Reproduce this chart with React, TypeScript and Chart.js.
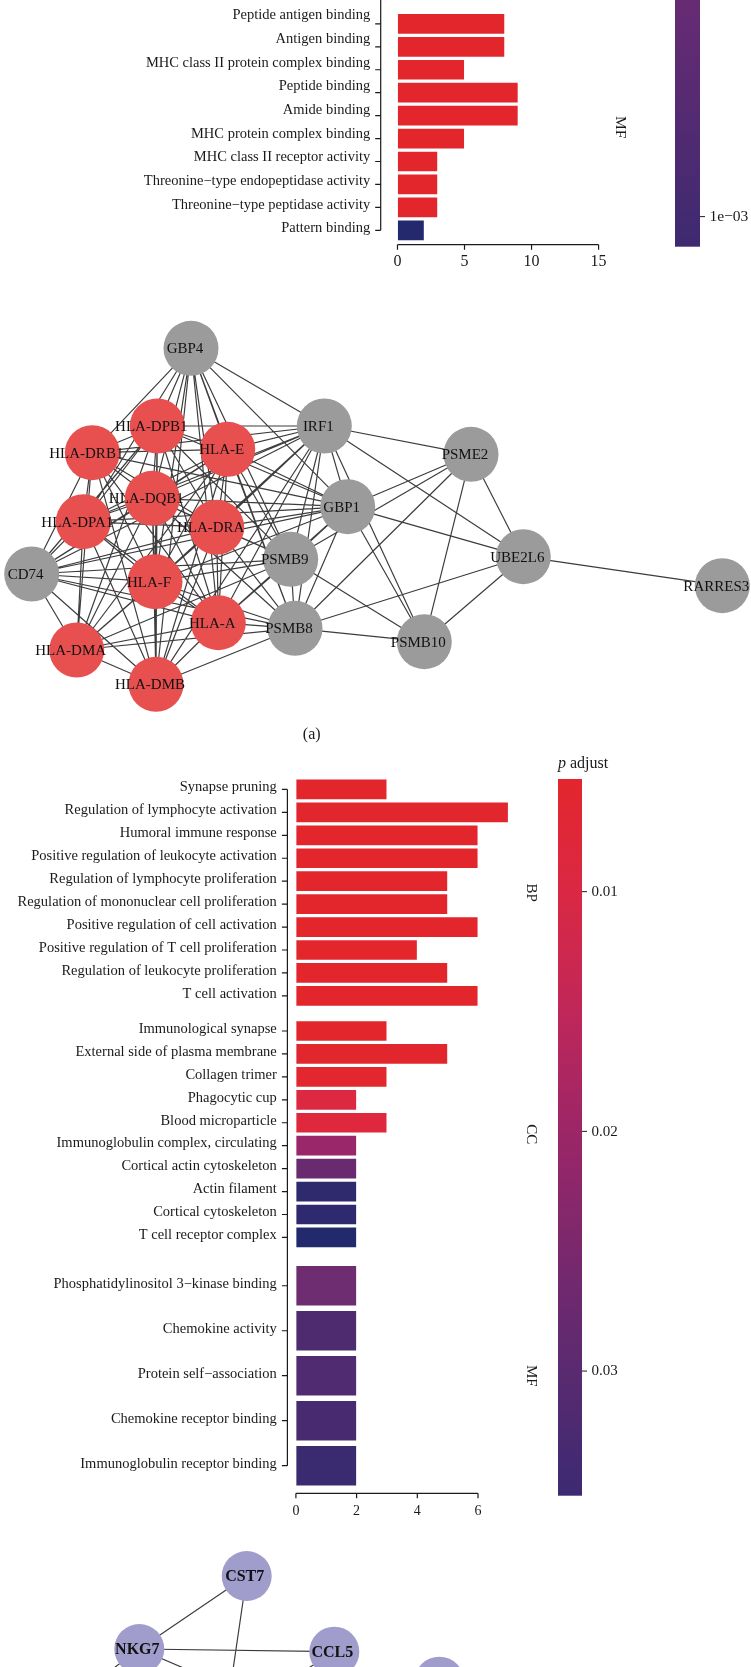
import React, { useEffect, useRef } from 'react';
import { Chart, registerables } from 'chart.js';

Chart.register(...registerables);

const SERIF = '"Liberation Serif", "Times New Roman", Times, serif';
const INK = '#1a1a1a';

// ================= Panel (a): GO enrichment, visible MF facet =================
const aMfTerms = [
  'Peptide antigen binding',
  'Antigen binding',
  'MHC class II protein complex binding',
  'Peptide binding',
  'Amide binding',
  'MHC protein complex binding',
  'MHC class II receptor activity',
  'Threonine\u2212type endopeptidase activity',
  'Threonine\u2212type peptidase activity',
  'Pattern binding',
];
const aMfCounts = [8, 8, 5, 9, 9, 5, 3, 3, 3, 2];
const aMfColors = ['#E2262C', '#E2262C', '#E2262C', '#E2262C', '#E2262C', '#E2262C', '#E2262C', '#E2262C', '#E2262C', '#24296E'];
const aXTicks = [0, 5, 10, 15];
const aPadjRange: [number, number] = [0.0001, 0.001125];
const aPadjTicks = [0.001];
const aPadjTickLabels = ['1e\u221203'];

// ================= Panel (a): PPI network =================
const netANodes = ['GBP4', 'HLA-DPB1', 'HLA-DRB1', 'HLA-E', 'HLA-DQB1', 'HLA-DPA1', 'HLA-DRA', 'CD74', 'HLA-F', 'HLA-A', 'HLA-DMA', 'HLA-DMB', 'IRF1', 'PSME2', 'GBP1', 'PSMB9', 'PSMB8', 'PSMB10', 'UBE2L6', 'RARRES3'];
const netALayoutX = [191, 157.3, 92.3, 227.7, 152.3, 83.3, 216.7, 31.7, 155, 218.3, 76.7, 156, 324.3, 471, 347.7, 290.7, 295, 424.3, 523.3, 722.3];
const netALayoutY = [48.3, 126, 152.7, 149.3, 198.3, 221.7, 227.3, 274, 281.7, 322.7, 350, 384.3, 126, 154.3, 206.7, 259.3, 328.3, 341.7, 256.7, 285.7];
const netAGroup = ['hub', 'hla', 'hla', 'hla', 'hla', 'hla', 'hla', 'hub', 'hla', 'hla', 'hla', 'hla', 'hub', 'hub', 'hub', 'hub', 'hub', 'hub', 'hub', 'hub'];
const netAEdges: [string, string[]][] = [
  ['HLA-DPB1', ['HLA-DRB1', 'HLA-DQB1', 'HLA-DPA1', 'HLA-DRA', 'HLA-DMA', 'HLA-DMB', 'CD74', 'HLA-E', 'HLA-F', 'HLA-A']],
  ['HLA-DRB1', ['HLA-DQB1', 'HLA-DPA1', 'HLA-DRA', 'HLA-DMA', 'HLA-DMB', 'CD74', 'HLA-E', 'HLA-F', 'HLA-A']],
  ['HLA-DQB1', ['HLA-DPA1', 'HLA-DRA', 'HLA-DMA', 'HLA-DMB', 'CD74', 'HLA-E', 'HLA-F', 'HLA-A']],
  ['HLA-DPA1', ['HLA-DRA', 'HLA-DMA', 'HLA-DMB', 'CD74', 'HLA-E', 'HLA-F', 'HLA-A']],
  ['HLA-DRA', ['HLA-DMA', 'HLA-DMB', 'CD74', 'HLA-E', 'HLA-F', 'HLA-A']],
  ['HLA-DMA', ['HLA-DMB', 'CD74', 'HLA-E', 'HLA-F', 'HLA-A']],
  ['HLA-DMB', ['CD74', 'HLA-E', 'HLA-F', 'HLA-A']],
  ['CD74', ['HLA-E', 'HLA-F', 'HLA-A']],
  ['HLA-E', ['HLA-F', 'HLA-A']],
  ['HLA-F', ['HLA-A']],
  ['GBP4', ['HLA-DPB1', 'HLA-DRB1', 'HLA-DQB1', 'HLA-DPA1', 'HLA-E', 'HLA-DRA', 'HLA-F', 'HLA-A', 'HLA-DMB', 'IRF1', 'GBP1', 'PSMB9', 'PSMB8']],
  ['IRF1', ['HLA-DPB1', 'HLA-DRB1', 'HLA-E', 'HLA-DQB1', 'HLA-DPA1', 'HLA-DRA', 'HLA-F', 'HLA-A', 'HLA-DMB', 'CD74', 'GBP1', 'PSMB9', 'PSMB8', 'PSME2', 'UBE2L6', 'PSMB10']],
  ['GBP1', ['HLA-DPB1', 'HLA-DRB1', 'HLA-E', 'HLA-DQB1', 'HLA-DPA1', 'HLA-DRA', 'HLA-F', 'HLA-A', 'CD74', 'PSMB9', 'PSMB8', 'PSME2', 'UBE2L6', 'PSMB10']],
  ['PSMB9', ['HLA-DPB1', 'HLA-E', 'HLA-DQB1', 'HLA-DRA', 'HLA-F', 'HLA-A', 'HLA-DMA', 'CD74', 'PSMB8', 'PSMB10', 'PSME2']],
  ['PSMB8', ['HLA-E', 'HLA-DQB1', 'HLA-DRA', 'HLA-F', 'HLA-A', 'HLA-DMA', 'HLA-DMB', 'CD74', 'PSMB10', 'PSME2', 'UBE2L6']],
  ['PSMB10', ['PSME2', 'UBE2L6']],
  ['PSME2', ['UBE2L6']],
  ['UBE2L6', ['RARRES3']],
];

// ================= Panel (b): GO enrichment =================
const bBpTerms = [
  'Synapse pruning',
  'Regulation of lymphocyte activation',
  'Humoral immune response',
  'Positive regulation of leukocyte activation',
  'Regulation of lymphocyte proliferation',
  'Regulation of mononuclear cell proliferation',
  'Positive regulation of cell activation',
  'Positive regulation of T cell proliferation',
  'Regulation of leukocyte proliferation',
  'T cell activation',
];
const bBpCounts = [3, 7, 6, 6, 5, 5, 6, 4, 5, 6];
const bBpColors = ['#E2262C', '#E1272D', '#E2262C', '#E2262C', '#E2262C', '#E2262C', '#E2262C', '#E2262C', '#E2262C', '#E2262C'];
const bCcTerms = [
  'Immunological synapse',
  'External side of plasma membrane',
  'Collagen trimer',
  'Phagocytic cup',
  'Blood microparticle',
  'Immunoglobulin complex, circulating',
  'Cortical actin cytoskeleton',
  'Actin filament',
  'Cortical cytoskeleton',
  'T cell receptor complex',
];
const bCcCounts = [3, 5, 3, 2, 3, 2, 2, 2, 2, 2];
const bCcColors = ['#E2262C', '#E2262D', '#E2272E', '#DD2842', '#DF283D', '#9A2769', '#692A6F', '#2F2A6E', '#2F2A70', '#222A6D'];
const bMfTerms = [
  'Phosphatidylinositol 3\u2212kinase binding',
  'Chemokine activity',
  'Protein self\u2212association',
  'Chemokine receptor binding',
  'Immunoglobulin receptor binding',
];
const bMfCounts = [2, 2, 2, 2, 2];
const bMfColors = ['#6E2C71', '#4E2B6F', '#512B71', '#472A70', '#3A2A70'];
const bXTicks = [0, 2, 4, 6];
const bPadjRange: [number, number] = [0.0053, 0.0352];
const bPadjTicks = [0.01, 0.02, 0.03];
const bPadjTickLabels = ['0.01', '0.02', '0.03'];

// ================= Panel (b): network (top part visible) =================
const netBNodes = ['CST7', 'NKG7', 'CCL5', 'GZMK', 'GZMA', 'CD8A', 'PRF1'];
const netBLayoutX = [246.7, 139.3, 334.3, 222, 258, 71, 439.3];
const netBLayoutY = [46, 119, 121.7, 215, 170, 170, 151.7];
const netBEdges: [string, string[]][] = [
  ['CST7', ['NKG7', 'GZMK']],
  ['NKG7', ['CCL5', 'CD8A', 'GZMA']],
  ['CCL5', ['GZMA']],
];

// ---------------- styles ----------------
const gradientA: [number, string][] = [
  [0.0001, '#672B73'],
  [0.001125, '#3E2A70'],
];
const gradientB: [number, string][] = [
  [0.0053, '#E3262D'],
  [0.01, '#DA2843'],
  [0.015, '#C02759'],
  [0.02, '#9C2667'],
  [0.025, '#7A286D'],
  [0.03, '#5A2A70'],
  [0.0352, '#3C2A72'],
];

type Facet = { name: string; terms: string[]; counts: number[]; colors: string[] };
type ColorbarSpec = {
  left: number; width: number; top: number; bottom: number;
  range: [number, number]; stops: [number, string][];
  ticks: number[]; tickLabels: string[]; fontSize: number;
  title?: boolean; titleY?: number;
};
type FacetBarSpec = {
  canvasTop: number; canvasHeight: number; width: number;
  plotLeft: number; plotRight: number; plotTop: number; plotBottom: number;
  xMin: number; xMax: number; xTicks: number[];
  facets: Facet[]; facetSpan: number; facetGap: number;
  axisFromCanvasTop: boolean;
  stripX: number; stripFont: number;
  yFont: number; xFont: number; yLabelPad: number; xLabelDy: number;
  yLabelOffsetFirst: number; yLabelOffsetLast: number;
  colorbar: ColorbarSpec;
};

function FacetBars({ spec }: { spec: FacetBarSpec }) {
  const ref = useRef<HTMLCanvasElement>(null);
  useEffect(() => {
    const s = spec;
    const nF = s.facets.length;
    const total = nF * s.facetSpan + (nF - 1) * s.facetGap;
    const pxPerUnit = (s.plotBottom - s.plotTop) / total;
    const allPos: number[] = [];
    const allTerms: string[] = [];
    const facetRanges: [number, number][] = [];
    const datasets = s.facets.map((f, fi) => {
      const start = fi * (s.facetSpan + s.facetGap);
      const step = s.facetSpan / (f.terms.length + 0.2);
      const pos = f.terms.map((_, i) => start + step * (0.6 + i));
      allPos.push(...pos);
      allTerms.push(...f.terms);
      facetRanges.push([start, start + s.facetSpan]);
      return {
        label: f.name,
        data: f.counts.map((c, i) => ({ x: c, y: pos[i] })),
        backgroundColor: f.colors,
        borderColor: 'rgba(255,255,255,0.45)',
        borderWidth: 0.8,
        borderSkipped: false,
        barThickness: 0.9 * step * pxPerUnit,
        grouped: false,
      };
    });
    const ct = s.canvasTop;
    const decor = {
      id: 'facetDecor',
      afterDraw(chart: any) {
        const ctx = chart.ctx as CanvasRenderingContext2D;
        const { left, bottom } = chart.chartArea;
        const xs = chart.scales.x;
        const ys = chart.scales.y;
        ctx.save();
        ctx.strokeStyle = INK;
        ctx.lineWidth = 1.2;
        // y axis line + tick marks
        const yFirst = ys.getPixelForValue(allPos[0]);
        const yLast = ys.getPixelForValue(allPos[allPos.length - 1]);
        ctx.beginPath();
        ctx.moveTo(left, s.axisFromCanvasTop ? 0 : yFirst);
        ctx.lineTo(left, yLast);
        allPos.forEach((p) => {
          const y = ys.getPixelForValue(p);
          ctx.moveTo(left - 5.5, y);
          ctx.lineTo(left, y);
        });
        // x axis line + tick marks
        const xa = xs.getPixelForValue(s.xTicks[0]);
        const xb = xs.getPixelForValue(s.xTicks[s.xTicks.length - 1]);
        const yAx = bottom + 0.6;
        ctx.moveTo(xa, yAx);
        ctx.lineTo(xb, yAx);
        s.xTicks.forEach((t) => {
          const x = xs.getPixelForValue(t);
          ctx.moveTo(x, yAx);
          ctx.lineTo(x, yAx + 5);
        });
        ctx.stroke();
        ctx.fillStyle = INK;
        // y tick labels (term names)
        ctx.font = `${s.yFont}px ${SERIF}`;
        ctx.textAlign = 'right';
        ctx.textBaseline = 'middle';
        const nL = allPos.length;
        allPos.forEach((p, i) => {
          const off = s.yLabelOffsetFirst + (s.yLabelOffsetLast - s.yLabelOffsetFirst) * (nL > 1 ? i / (nL - 1) : 0);
          ctx.fillText(allTerms[i], left - s.yLabelPad, ys.getPixelForValue(p) + off);
        });
        // x tick labels
        ctx.font = `${s.xFont}px ${SERIF}`;
        ctx.textAlign = 'center';
        s.xTicks.forEach((t) => {
          ctx.fillText(String(t), xs.getPixelForValue(t), bottom + s.xLabelDy);
        });
        // facet strip labels
        ctx.font = `${s.stripFont}px ${SERIF}`;
        facetRanges.forEach(([a, b], i) => {
          const yc = (ys.getPixelForValue(a) + ys.getPixelForValue(b)) / 2;
          ctx.save();
          ctx.translate(s.stripX, yc);
          ctx.rotate(Math.PI / 2);
          ctx.fillText(s.facets[i].name, 0, 0);
          ctx.restore();
        });
        // colorbar
        const cb = s.colorbar;
        const top = cb.top - ct;
        const bot = cb.bottom - ct;
        const [r0, r1] = cb.range;
        const toY = (v: number) => top + ((v - r0) / (r1 - r0)) * (bot - top);
        const grad = ctx.createLinearGradient(0, top, 0, bot);
        cb.stops.forEach(([v, c]) => {
          grad.addColorStop(Math.min(1, Math.max(0, (v - r0) / (r1 - r0))), c);
        });
        ctx.fillStyle = grad;
        ctx.fillRect(cb.left, top, cb.width, bot - top);
        ctx.strokeStyle = INK;
        ctx.lineWidth = 1;
        ctx.fillStyle = INK;
        ctx.font = `${cb.fontSize}px ${SERIF}`;
        ctx.textAlign = 'left';
        ctx.textBaseline = 'middle';
        cb.ticks.forEach((v, i) => {
          const y = toY(v);
          ctx.beginPath();
          ctx.moveTo(cb.left + cb.width, y);
          ctx.lineTo(cb.left + cb.width + 5, y);
          ctx.stroke();
          ctx.fillText(cb.tickLabels[i], cb.left + cb.width + 9.5, y + 0.5);
        });
        if (cb.title && cb.titleY !== undefined) {
          const ty = cb.titleY - ct;
          ctx.font = `italic 16px ${SERIF}`;
          ctx.fillText('p', cb.left, ty);
          const w = ctx.measureText('p').width;
          ctx.font = `16px ${SERIF}`;
          ctx.fillText(' adjust', cb.left + w, ty);
        }
        ctx.restore();
      },
    };
    const chart = new Chart(ref.current as HTMLCanvasElement, {
      type: 'bar',
      data: { datasets: datasets as any },
      options: {
        indexAxis: 'y',
        animation: false,
        responsive: false,
        events: [],
        layout: {
          autoPadding: false,
          padding: {
            top: s.plotTop - ct,
            right: s.width - s.plotRight,
            left: s.plotLeft,
            bottom: ct + s.canvasHeight - s.plotBottom,
          },
        },
        plugins: { legend: { display: false }, tooltip: { enabled: false } },
        scales: {
          x: { type: 'linear', min: s.xMin, max: s.xMax, offset: false, display: false },
          y: { type: 'linear', min: 0, max: total, reverse: true, offset: false, display: false },
        },
      } as any,
      plugins: [decor],
    });
    return () => chart.destroy();
  }, [spec]);
  return (
    <canvas
      ref={ref}
      width={spec.width}
      height={spec.canvasHeight}
      style={{ position: 'absolute', left: 0, top: spec.canvasTop, width: spec.width, height: spec.canvasHeight }}
    />
  );
}

type NetSpec = {
  canvasTop: number; canvasHeight: number; width: number;
  nodes: string[]; xs: number[]; ys: number[]; colors: string[];
  edges: [string, string[]][];
  radius: number; font: string; labelDx: number; edgeColor: string; edgeWidth: number;
};

function Network({ spec }: { spec: NetSpec }) {
  const ref = useRef<HTMLCanvasElement>(null);
  useEffect(() => {
    const idx = new Map(spec.nodes.map((n, i) => [n, i] as [string, number]));
    const edgeData: { x: number; y: number }[] = [];
    spec.edges.forEach(([a, bs]) => {
      bs.forEach((b) => {
        const i = idx.get(a) as number;
        const j = idx.get(b) as number;
        edgeData.push({ x: spec.xs[i], y: spec.ys[i] }, { x: spec.xs[j], y: spec.ys[j] }, { x: NaN, y: NaN });
      });
    });
    const labels = {
      id: 'nodeLabels',
      afterDatasetsDraw(chart: any) {
        const ctx = chart.ctx as CanvasRenderingContext2D;
        const meta = chart.getDatasetMeta(0);
        ctx.save();
        ctx.font = spec.font;
        ctx.fillStyle = '#111';
        ctx.textAlign = 'center';
        ctx.textBaseline = 'middle';
        meta.data.forEach((pt: any, i: number) => {
          ctx.fillText(spec.nodes[i], pt.x + spec.labelDx, pt.y + 1);
        });
        ctx.restore();
      },
    };
    const chart = new Chart(ref.current as HTMLCanvasElement, {
      type: 'scatter',
      data: {
        datasets: [
          {
            label: 'nodes',
            data: spec.nodes.map((_, i) => ({ x: spec.xs[i], y: spec.ys[i] })),
            pointRadius: spec.radius,
            pointHoverRadius: spec.radius,
            pointBackgroundColor: spec.colors,
            pointBorderWidth: 0,
            pointBorderColor: 'rgba(0,0,0,0)',
            showLine: false,
            clip: false,
            order: 0,
          },
          {
            type: 'line',
            label: 'edges',
            data: edgeData,
            borderColor: spec.edgeColor,
            borderWidth: spec.edgeWidth,
            pointRadius: 0,
            spanGaps: false,
            fill: false,
            tension: 0,
            clip: false,
            order: 1,
          },
        ] as any,
      },
      options: {
        animation: false,
        responsive: false,
        events: [],
        layout: { autoPadding: false, padding: 0 },
        plugins: { legend: { display: false }, tooltip: { enabled: false } },
        scales: {
          x: { type: 'linear', min: 0, max: spec.width, offset: false, display: false },
          y: { type: 'linear', min: 0, max: spec.canvasHeight, reverse: true, offset: false, display: false },
        },
      } as any,
      plugins: [labels],
    });
    return () => chart.destroy();
  }, [spec]);
  return (
    <canvas
      ref={ref}
      width={spec.width}
      height={spec.canvasHeight}
      style={{ position: 'absolute', left: 0, top: spec.canvasTop, width: spec.width, height: spec.canvasHeight }}
    />
  );
}

const W = 751;

const specBarsA: FacetBarSpec = {
  canvasTop: 0, canvasHeight: 290, width: W,
  plotLeft: 380.7, plotRight: 610, plotTop: 10.1, plotBottom: 244.1,
  xMin: -1.25, xMax: 15.85, xTicks: aXTicks,
  facets: [{ name: 'MF', terms: aMfTerms, counts: aMfCounts, colors: aMfColors }],
  facetSpan: 10.2, facetGap: 0.33,
  axisFromCanvasTop: true,
  stripX: 620, stripFont: 15.5,
  yFont: 14.5, xFont: 16, yLabelPad: 10.5, xLabelDy: 18,
  yLabelOffsetFirst: -8.5, yLabelOffsetLast: -1.8,
  colorbar: {
    left: 675, width: 25, top: 0, bottom: 246.7,
    range: aPadjRange, stops: gradientA, ticks: aPadjTicks, tickLabels: aPadjTickLabels, fontSize: 15.5,
  },
};

const specBarsB: FacetBarSpec = {
  canvasTop: 745, canvasHeight: 785, width: W,
  plotLeft: 287.4, plotRight: 518.7, plotTop: 775.7, plotBottom: 1492.7,
  xMin: -0.28, xMax: 7.34, xTicks: bXTicks,
  facets: [
    { name: 'BP', terms: bBpTerms, counts: bBpCounts, colors: bBpColors },
    { name: 'CC', terms: bCcTerms, counts: bCcCounts, colors: bCcColors },
    { name: 'MF', terms: bMfTerms, counts: bMfCounts, colors: bMfColors },
  ],
  facetSpan: 10.2, facetGap: 0.33,
  axisFromCanvasTop: false,
  stripX: 530.7, stripFont: 15,
  yFont: 14.5, xFont: 14, yLabelPad: 10.6, xLabelDy: 18.6,
  yLabelOffsetFirst: -2, yLabelOffsetLast: -2,
  colorbar: {
    left: 558, width: 24, top: 779, bottom: 1495.7,
    range: bPadjRange, stops: gradientB, ticks: bPadjTicks, tickLabels: bPadjTickLabels, fontSize: 15,
    title: true, titleY: 764,
  },
};

const specNetA: NetSpec = {
  canvasTop: 300, canvasHeight: 445, width: W,
  nodes: netANodes, xs: netALayoutX, ys: netALayoutY,
  colors: netAGroup.map((g) => (g === 'hla' ? '#E85050' : '#9B9B9B')),
  edges: netAEdges,
  radius: 27.5, font: `15px ${SERIF}`, labelDx: -6, edgeColor: '#3d3d3d', edgeWidth: 1.2,
};

const specNetB: NetSpec = {
  canvasTop: 1530, canvasHeight: 137, width: W,
  nodes: netBNodes, xs: netBLayoutX, ys: netBLayoutY,
  colors: netBNodes.map(() => '#A09CCC'),
  edges: netBEdges,
  radius: 25, font: `bold 16px ${SERIF}`, labelDx: -2, edgeColor: '#3d3d3d', edgeWidth: 1.2,
};

export default function App() {
  useEffect(() => {
    document.body.style.margin = '0';
  }, []);
  return (
    <div
      style={{
        position: 'absolute', left: 0, top: 0, width: W, height: 1667,
        overflow: 'hidden', background: '#ffffff', fontFamily: SERIF,
      }}
    >
      <FacetBars spec={specBarsA} />
      <Network spec={specNetA} />
      <div
        style={{
          position: 'absolute', left: 291.7, top: 724, width: 40, height: 20,
          textAlign: 'center', fontSize: 16, lineHeight: '20px', color: INK, fontFamily: SERIF,
        }}
      >
        (a)
      </div>
      <FacetBars spec={specBarsB} />
      <Network spec={specNetB} />
    </div>
  );
}
